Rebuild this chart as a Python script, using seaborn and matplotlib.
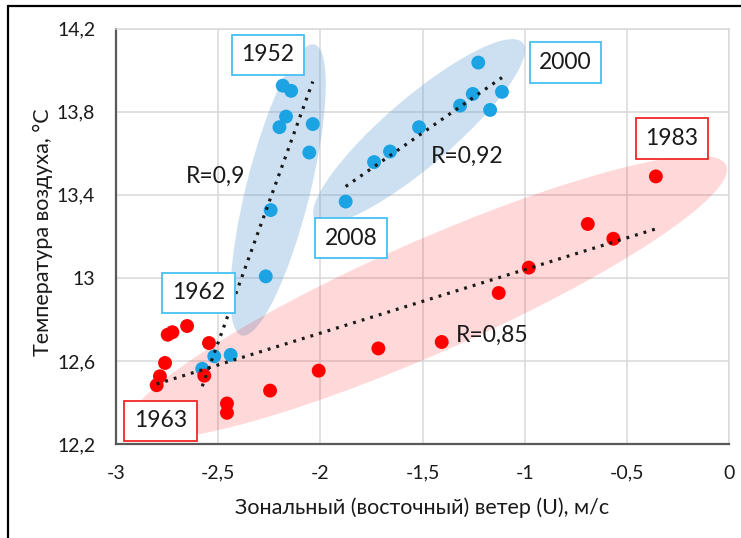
import matplotlib
matplotlib.use("Agg")
import matplotlib.pyplot as plt
from matplotlib.patches import Ellipse
from matplotlib.lines import Line2D
from matplotlib import transforms
from matplotlib.ticker import FuncFormatter, FixedLocator
import pandas as pd
import seaborn as sns

# Zonal (easterly) wind U, m/s, and air temperature, °C
# period 1952-1962
wind_1952_1962 = [-2.184, -2.143, -2.168, -2.200, -2.037, -2.054, -2.243, -2.267, -2.519, -2.439, -2.578]
temp_1952_1962 = [13.925, 13.900, 13.776, 13.725, 13.740, 13.603, 13.326, 13.007, 12.622, 12.629, 12.562]
# period 2000-2008
wind_2000_2008 = [-1.227, -1.254, -1.111, -1.316, -1.169, -1.517, -1.659, -1.737, -1.876]
temp_2000_2008 = [14.036, 13.885, 13.895, 13.829, 13.808, 13.725, 13.608, 13.557, 13.367]
# period 1963-1983
wind_1963_1983 = [-2.652, -2.724, -2.747, -2.545, -2.760, -2.785, -2.801, -2.568, -2.457, -2.457,
                  -2.246, -2.008, -1.716, -1.406, -1.127, -0.980, -0.691, -0.566, -0.358]
temp_1963_1983 = [12.768, 12.738, 12.726, 12.686, 12.590, 12.526, 12.483, 12.529, 12.395, 12.350,
                  12.457, 12.553, 12.660, 12.691, 12.927, 13.049, 13.259, 13.188, 13.488]

x_ticks = [-3, -2.5, -2, -1.5, -1, -0.5, 0]
y_ticks = [12.2, 12.6, 13.0, 13.4, 13.8, 14.2]

periods = ["1952-1962", "2000-2008", "1963-1983"]
r_labels = ["R=0,9", "R=0,92", "R=0,85"]

df = pd.concat([
    pd.DataFrame({"wind": wind_1952_1962, "temp": temp_1952_1962, "period": periods[0]}),
    pd.DataFrame({"wind": wind_2000_2008, "temp": temp_2000_2008, "period": periods[1]}),
    pd.DataFrame({"wind": wind_1963_1983, "temp": temp_1963_1983, "period": periods[2]}),
], ignore_index=True)

sns.set_style("white")
plt.rcParams["font.family"] = ["Lato", "Open Sans", "DejaVu Sans"]

BLUE = "#1ca3e3"
RED = "#ff0000"
palette = {periods[0]: BLUE, periods[1]: BLUE, periods[2]: RED}

fig = plt.figure(figsize=(7.41, 5.38), dpi=100)
ax = fig.add_axes([116 / 741, 1 - 444 / 538, 613 / 741, 415.5 / 538])

ax.set_xlim(-3, 0)
ax.set_ylim(12.2, 14.2)


def add_oval(cx, cy, w_px, h_px, angle, color, alpha):
    # oval anchored at a data point, sized in screen pixels
    trans = fig.dpi_scale_trans + transforms.ScaledTranslation(cx, cy, ax.transData)
    oval = Ellipse((0, 0), w_px / fig.dpi, h_px / fig.dpi, angle=angle,
                   transform=trans, facecolor=color, alpha=alpha,
                   edgecolor="none", zorder=1, clip_on=False)
    ax.add_artist(oval)


add_oval(-2.207, 13.423, 300, 64, 76, "#5b9bd5", 0.30)
add_oval(-1.517, 13.704, 273, 68, 40.6, "#5b9bd5", 0.30)
add_oval(-1.480, 12.905, 655, 112, 23.8, RED, 0.15)

sns.scatterplot(data=df, x="wind", y="temp", hue="period", palette=palette,
                s=100, linewidth=0, legend=False, ax=ax, zorder=3)

for p in periods:
    sns.regplot(data=df[df["period"] == p], x="wind", y="temp", scatter=False,
                ci=None, truncate=True, color="#1a1a1a", ax=ax,
                line_kws=dict(linestyle=(0, (0.9, 1.9)), linewidth=2.3, zorder=4))

ax.set_xlim(-3, 0)
ax.set_ylim(12.2, 14.2)

fmt = FuncFormatter(lambda v, pos: f"{v:g}".replace(".", ","))
ax.xaxis.set_major_locator(FixedLocator(x_ticks))
ax.yaxis.set_major_locator(FixedLocator(y_ticks))
ax.xaxis.set_major_formatter(fmt)
ax.yaxis.set_major_formatter(fmt)
ax.tick_params(axis="both", length=0, labelsize=14, colors="#1a1a1a")
ax.tick_params(axis="x", pad=15)
ax.tick_params(axis="y", pad=15)

ax.grid(True, color="#d9d9d9", linewidth=1.1)
ax.set_axisbelow(True)
for side in ["top", "right"]:
    ax.spines[side].set_color("#d9d9d9")
    ax.spines[side].set_linewidth(1.1)
for side in ["left", "bottom"]:
    ax.spines[side].set_color("#595959")
    ax.spines[side].set_linewidth(1.6)

ax.set_xlabel("Зональный (восточный) ветер (U), м/с", fontsize=15.5, color="#1a1a1a")
ax.set_ylabel("Температура воздуха, °C", fontsize=15.5, color="#1a1a1a")
ax.xaxis.set_label_coords(0.5, -0.128)
ax.yaxis.set_label_coords(-0.102, 0.51)

# year callouts
box_blue = dict(boxstyle="square,pad=0.42", fc="white", ec="#45c0f2", lw=1.3)
box_red = dict(boxstyle="square,pad=0.42", fc="white", ec="#f02828", lw=1.3)
callouts = [("1952", -2.256, 14.073, box_blue),
            ("2000", -0.800, 14.036, box_blue),
            ("2008", -1.848, 13.190, box_blue),
            ("1962", -2.596, 12.927, box_blue),
            ("1963", -2.782, 12.312, box_red),
            ("1983", -0.279, 13.671, box_red)]
for text, x, y, box in callouts:
    ax.text(x, y, text, ha="center", va="center", fontsize=16.5,
            color="#1a1a1a", bbox=box, zorder=5)

r_pos = [(-2.513, 13.487), (-1.282, 13.583), (-1.160, 12.725)]
for text, (x, y) in zip(r_labels, r_pos):
    ax.text(x, y, text, ha="center", va="center", fontsize=16.5,
            color="#1a1a1a", zorder=5)

# outer frame
fig.add_artist(Line2D([8 / 741, 8 / 741], [0, 1 - 6 / 538],
                      transform=fig.transFigure, color="black", lw=1.6))
fig.add_artist(Line2D([8 / 741, 1], [1 - 6 / 538, 1 - 6 / 538],
                      transform=fig.transFigure, color="black", lw=1.6))

fig.savefig("out.png", dpi=100)
